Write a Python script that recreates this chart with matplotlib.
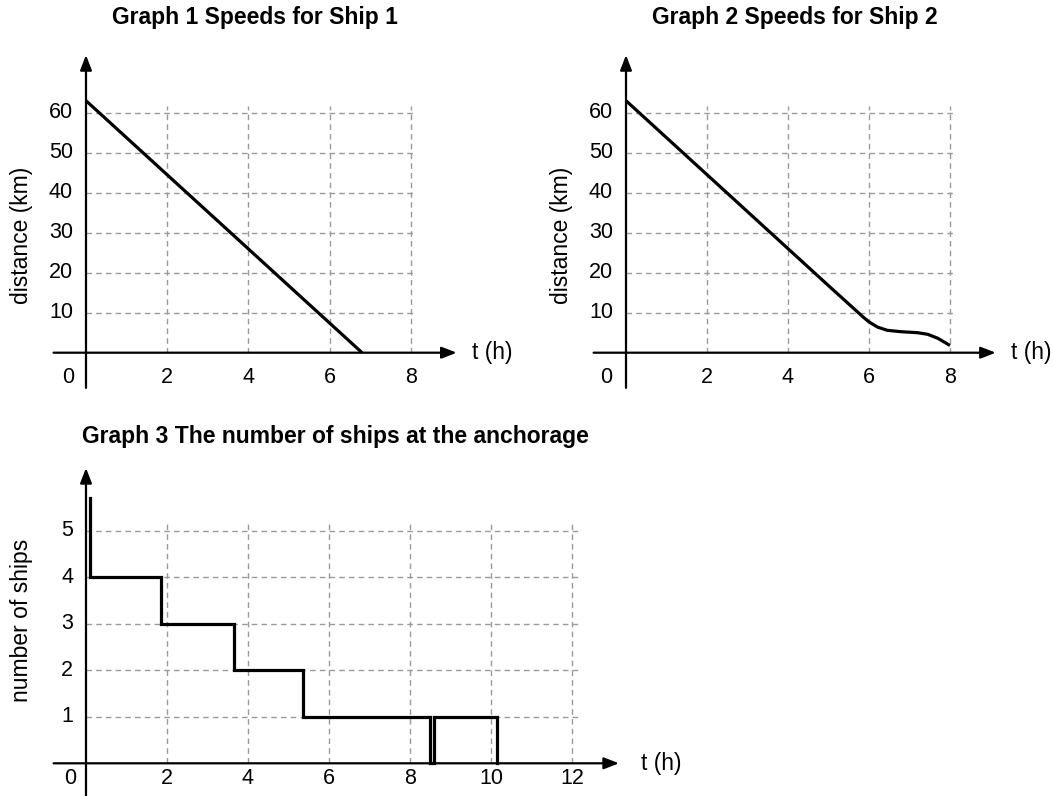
import matplotlib
matplotlib.use("Agg")
import matplotlib.pyplot as plt

plt.rcParams['font.family'] = ['Liberation Sans', 'DejaVu Sans']

# --- data ---
ship1_t = [0, 6.8]
ship1_d = [63, 0]

ship2_t = [0, 5.05, 5.88, 6.0, 6.21, 6.45, 6.79, 7.2, 7.45, 7.7, 8.0]
ship2_d = [63, 16.3, 8.7, 7.7, 6.4, 5.6, 5.25, 5.0, 4.6, 3.6, 1.8]

ships_start = 5.7           # top of the first vertical segment
ships_change_t = [0.1, 1.85, 3.65, 5.35, 8.5, 8.59, 10.16]
ships_level = [4, 3, 2, 1, 0, 1, 0]

dist_ticks = [10, 20, 30, 40, 50, 60]
time_ticks_12 = [2, 4, 6, 8]
time_ticks_3 = [2, 4, 6, 8, 10, 12]
ship_ticks = [1, 2, 3, 4, 5]

W, H = 1053, 796
fig = plt.figure(figsize=(W / 100, H / 100), dpi=100)

GRID = dict(colors='#9a9a9a', linestyles=(0, (4, 3)), linewidths=1.0, zorder=1)
TICK_FS = 15.5
LABEL_FS = 16.5
TITLE_FS = 16.5
LINE_W = 2.3


def place_axes(x0, y0, sx, sy, xlim, ylim):
    left = x0 + xlim[0] * sx
    right = x0 + xlim[1] * sx
    top = y0 - ylim[1] * sy
    bottom = y0 - ylim[0] * sy
    ax = fig.add_axes([left / W, 1 - bottom / H, (right - left) / W, (bottom - top) / H])
    ax.set_xlim(*xlim)
    ax.set_ylim(*ylim)
    ax.axis('off')
    return ax


def draw_frame(ax, xticks, yticks, x_end, y_end, x_start, y_start,
               grid_x, grid_y, xlab_y, ylab_x, zero_xy, tlab_x, ylabel, ylabel_xy):
    # grid
    ax.hlines(yticks, 0, grid_x, **GRID)
    ax.vlines(xticks, 0, grid_y, **GRID)
    # axes with arrow heads
    arrow = dict(arrowstyle='-|>,head_length=0.9,head_width=0.35', color='black',
                 lw=1.6, shrinkA=0, shrinkB=0)
    ax.annotate('', xy=(x_end, 0), xytext=(x_start, 0), arrowprops=arrow,
                annotation_clip=False, zorder=4)
    ax.annotate('', xy=(0, y_end), xytext=(0, y_start), arrowprops=arrow,
                annotation_clip=False, zorder=4)
    for t in xticks:
        ax.text(t, xlab_y, str(t), ha='center', va='center', fontsize=TICK_FS)
    for v in yticks:
        ax.text(ylab_x, v, str(v), ha='right', va='center', fontsize=TICK_FS)
    ax.text(zero_xy[0], zero_xy[1], '0', ha='center', va='center', fontsize=TICK_FS)
    ax.text(tlab_x, 0, 't (h)', ha='left', va='center', fontsize=LABEL_FS)
    ax.text(ylabel_xy[0], ylabel_xy[1], ylabel, rotation=90, ha='center', va='center',
            fontsize=LABEL_FS)


# ---- Graph 1 ----
ax1 = place_axes(86, 352.7, 40.6, 4.0, (-2.1, 11), (-10, 88))
draw_frame(ax1, time_ticks_12, dist_ticks, 9.13, 74.4, -0.8, -8.8, 8.13, 61.7,
           -6.3, -0.32, (-0.44, -6.3), 9.5, 'distance (km)', (-1.6, 29.4))
ax1.plot(ship1_t, ship1_d, color='black', lw=LINE_W, zorder=3, solid_capstyle='butt')
ax1.text(4.16, 83.7, 'Graph 1 Speeds for Ship 1', ha='center', va='center',
         fontsize=TITLE_FS, fontweight='bold')

# ---- Graph 2 ----
ax2 = place_axes(626, 352.7, 40.5, 4.0, (-2.1, 11), (-10, 88))
draw_frame(ax2, time_ticks_12, dist_ticks, 9.13, 74.4, -0.8, -8.8, 8.13, 61.7,
           -6.3, -0.32, (-0.5, -6.3), 9.5, 'distance (km)', (-1.6, 29.4))
ax2.plot(ship2_t, ship2_d, color='black', lw=LINE_W, zorder=3, solid_capstyle='butt')
ax2.text(4.16, 83.7, 'Graph 2 Speeds for Ship 2', ha='center', va='center',
         fontsize=TITLE_FS, fontweight='bold')

# ---- Graph 3 ----
ax3 = place_axes(86, 763.3, 40.5, 46.5, (-2.1, 16), (-0.8, 7.4))
draw_frame(ax3, time_ticks_3, ship_ticks, 13.16, 6.35, -0.8, -0.8, 12.16, 5.15,
           -0.32, -0.32, (-0.4, -0.32), 13.7, 'number of ships', (-1.6, 3.08))

xs, ys = [ships_change_t[0]], [ships_start]
prev = ships_start
for t, lvl in zip(ships_change_t, ships_level):
    xs += [t, t]
    ys += [prev, lvl]
    prev = lvl
ax3.plot(xs, ys, color='black', lw=LINE_W, zorder=3, solid_joinstyle='miter')
ax3.text(6.15, 7.02, 'Graph 3 The number of ships at the anchorage', ha='center',
         va='center', fontsize=TITLE_FS, fontweight='bold')

fig.savefig('out.png', dpi=100)
